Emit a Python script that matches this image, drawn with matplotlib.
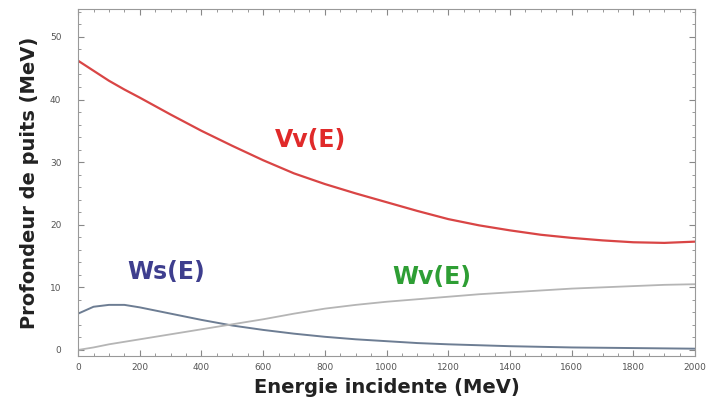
import numpy as np
import matplotlib.pyplot as plt

# energies (MeV) and depths (MeV)
energy = [0, 50, 100, 150, 200, 300, 400, 500, 600, 700, 800, 900, 1000, 1100,
          1200, 1300, 1400, 1500, 1600, 1700, 1800, 1900, 2000]
vv = [46.2, 44.6, 43.0, 41.6, 40.3, 37.6, 35.0, 32.6, 30.3, 28.2, 26.5, 25.0,
      23.6, 22.2, 20.9, 19.9, 19.1, 18.4, 17.9, 17.5, 17.2, 17.1, 17.3]
ws = [5.8, 6.9, 7.2, 7.2, 6.8, 5.8, 4.8, 3.9, 3.2, 2.6, 2.1, 1.7, 1.4, 1.1,
      0.9, 0.75, 0.6, 0.5, 0.4, 0.35, 0.3, 0.25, 0.2]
wv = [0.0, 0.4, 0.9, 1.3, 1.7, 2.5, 3.3, 4.1, 4.9, 5.8, 6.6, 7.2, 7.7, 8.1,
      8.5, 8.9, 9.2, 9.5, 9.8, 10.0, 10.2, 10.4, 10.5]

x_ticks = [0, 200, 400, 600, 800, 1000, 1200, 1400, 1600, 1800, 2000]
y_ticks = [0, 10, 20, 30, 40, 50]

fig = plt.figure(figsize=(7.1, 3.98), dpi=100)
ax = fig.add_axes([0.11, 0.105, 0.869, 0.873])

ax.plot(energy, vv, color="#d94545", lw=1.6)
ax.plot(energy, ws, color="#6d7d93", lw=1.4)
ax.plot(energy, wv, color="#b5b5b5", lw=1.3)

ax.text(752, 33.6, "Vv(E)", color="#e02a2a", fontsize=17, fontweight="bold",
        ha="center", va="center")
ax.text(286, 12.5, "Ws(E)", color="#3e3e8e", fontsize=17, fontweight="bold",
        ha="center", va="center")
ax.text(1148, 11.6, "Wv(E)", color="#2e9e34", fontsize=17, fontweight="bold",
        ha="center", va="center")

ax.set_xlim(0, 2000)
ax.set_ylim(-1, 54.5)
ax.set_xticks(x_ticks)
ax.set_yticks(y_ticks)
ax.set_xticks(np.arange(0, 2001, 50), minor=True)
ax.set_yticks(np.arange(0, 55, 2), minor=True)
ax.tick_params(which="both", direction="in", top=True, right=True, color="#888888",
               labelsize=6.5, labelcolor="#555555")
ax.tick_params(which="major", length=4)
ax.tick_params(which="minor", length=2)
ax.tick_params(axis="y", pad=12)
ax.tick_params(axis="x", pad=5)
for s in ax.spines.values():
    s.set_color("#999999")

ax.set_xlabel("Energie incidente (MeV)", fontsize=14, fontweight="bold", color="#222222",
              labelpad=4)
ax.set_ylabel("Profondeur de puits (MeV)", fontsize=14, fontweight="bold", color="#222222",
              labelpad=8)

fig.savefig("out.png", dpi=100)
